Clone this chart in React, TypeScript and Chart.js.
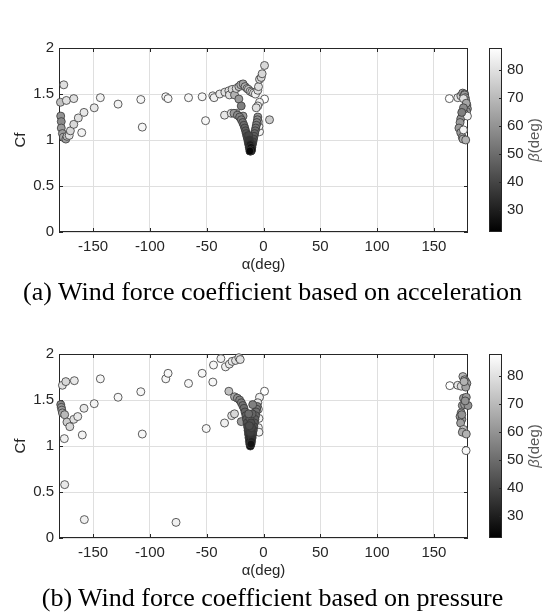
import React, { useEffect, useRef } from 'react';
import { Chart, registerables } from 'chart.js';

Chart.register(...registerables);

// ---------- axis ticks ----------
const xTicks = [-150, -100, -50, 0, 50, 100, 150];
const yTicks = [0, 0.5, 1, 1.5, 2];
const cbTicks = [30, 40, 50, 60, 70, 80];
const xMin = -180, xMax = 180, yMin = 0, yMax = 2, cbMin = 22, cbMax = 88;

const xTitle = 'α(deg)';
const yTitle = 'Cf';
const cbTitleGreek = 'β';
const cbTitleRest = '(deg)';
const captionA = '(a) Wind force coefficient based on acceleration';
const captionB = '(b) Wind force coefficient based on pressure';

// ---------- (a) based on acceleration ----------
const alphaA = [
  -175.8, -178.7, -173.5, -167, -178.5, -178, -178, -177, -176, -174,
  -173, -171, -170, -167, -163, -158, -160, -149, -143.6, -128,
  -108, -106.7, -86, -84, -66, -54, -51, -44.6, -43.5, -38.5,
  -34, -34.3, -30.5, -30, -27.6, -25.5, -24, -21.7, -20, -18,
  -16.2, -14.5, -13.3, -11.8, -10.3, -8.8, -7, -5, -4.4, -3.5,
  -2, -1.2, 0.9, -21.7, -19.6, 0.9, 5.3, -3.5, -5, -6.4,
  -28.4, -24, -18, -3.5, -4, -4.5,
  -26, -23, -21, -19.5, -18.3, -17.3, -16.5, -15.8, -15.2, -14.6, -14, -13.5, -13, -12.5, -12, -11.5,
  -5, -5.3, -5.8, -6.3, -6.8, -7.3, -7.8, -8.3, -8.8, -9.3, -9.8, -10.3, -10.8, -11,
  -13, -12.5, -11.8, -11, -10.5, -12,
  163.6, 171, 173.7, 175.3, 177, 177, 177.6, 178, 179, 179.5,
  178.7, 176.6, 175, 173.6, 173, 172, 173.6, 175, 175.6, 178,
  176, 179.5, 176, 178.5, 176, 174.5,
];
const cfA = [
  1.60, 1.41, 1.43, 1.45, 1.26, 1.20, 1.13, 1.07, 1.03, 1.01,
  1.04, 1.05, 1.10, 1.17, 1.24, 1.30, 1.08, 1.35, 1.46, 1.39,
  1.44, 1.14, 1.47, 1.45, 1.46, 1.47, 1.21, 1.48, 1.46, 1.50,
  1.52, 1.27, 1.535, 1.49, 1.55, 1.49, 1.56, 1.58, 1.60, 1.61,
  1.58, 1.56, 1.55, 1.53, 1.52, 1.51, 1.50, 1.54, 1.58, 1.66,
  1.68, 1.72, 1.81, 1.445, 1.37, 1.445, 1.22, 1.41, 1.37, 1.35,
  1.29, 1.29, 1.26, 1.09, 1.15, 1.20,
  1.29, 1.27, 1.25, 1.22, 1.19, 1.16, 1.13, 1.10, 1.07, 1.04, 1.01, 0.98, 0.95, 0.92, 0.90, 0.88,
  1.25, 1.22, 1.19, 1.16, 1.13, 1.10, 1.07, 1.04, 1.01, 0.98, 0.95, 0.92, 0.90, 0.88,
  1.05, 1.00, 0.95, 0.92, 0.89, 0.88,
  1.45, 1.46, 1.48, 1.51, 1.50, 1.49, 1.46, 1.43, 1.38, 1.34,
  1.31, 1.29, 1.26, 1.23, 1.19, 1.13, 1.08, 1.03, 1.01, 1.00,
  1.11, 1.26, 1.45, 1.40, 1.35, 1.30,
];
const betaA = [
  80, 72, 80, 80, 60, 58, 62, 62, 65, 63,
  70, 80, 78, 78, 80, 82, 85, 82, 85, 85,
  86, 86, 86, 86, 86, 86, 86, 84, 84, 82,
  80, 82, 80, 80, 78, 68, 78, 72, 68, 64,
  68, 72, 74, 76, 78, 80, 84, 80, 80, 78,
  78, 78, 78, 62, 55, 88, 75, 84, 82, 80,
  80, 75, 62, 86, 86, 84,
  62, 58, 56, 54, 52, 50, 48, 46, 44, 42, 40, 37, 34, 31, 28, 25,
  60, 58, 56, 54, 52, 50, 48, 46, 43, 40, 36, 32, 28, 24,
  40, 36, 30, 27, 25, 24,
  88, 82, 75, 65, 65, 62, 62, 62, 62, 60,
  60, 60, 60, 60, 62, 62, 62, 64, 66, 68,
  85, 85, 80, 65, 58, 55,
];

// ---------- (b) based on pressure ----------
const alphaB = [
  -177, -174, -166.5, -178.5, -178, -177.5, -177, -175, -173, -170.5,
  -167, -163.5, -158, -159.5, -175.3, -175, -157.7, -149, -143.6, -128,
  -108, -106.7, -86, -84, -77, -66, -54, -50.4, -44.6, -44,
  -37.5, -33.4, -30, -27.6, -24.6, -21.7, -20.5, -34.3, -30.5, -28,
  -25.5, -19.6, 0.9, -3.5, -5, -4.5, -4, -4.5, -4,
  -25.5, -23, -21, -19.5, -18.3, -17.2, -16.3, -15.5, -15, -14.5, -14, -13.6, -13.2, -12.8, -12.4, -12, -11.6,
  -5.5, -6, -6.5, -7, -7.5, -8, -8.5, -9, -9.5, -10, -10.5, -11,
  -12, -11, -10, -11.5, -13, -9.5, -10.5, -12.5,
  164, 171, 174, 175.5, 177, 178, 179, 178, 176, 178.5,
  175, 177, 180, 174, 173, 174.6, 173.5, 176, 175, 178.5,
  178.3, 174.5, 176.5, 177.5,
];
const cfB = [
  1.66, 1.70, 1.71, 1.45, 1.42, 1.39, 1.36, 1.34, 1.26, 1.21,
  1.29, 1.32, 1.41, 1.12, 1.08, 0.58, 0.20, 1.46, 1.73, 1.53,
  1.59, 1.13, 1.73, 1.79, 0.17, 1.68, 1.79, 1.19, 1.695, 1.88,
  1.95, 1.86, 1.89, 1.92, 1.93, 1.96, 1.94, 1.25, 1.595, 1.33,
  1.35, 1.265, 1.595, 1.53, 1.47, 1.40, 1.30, 1.20, 1.15,
  1.535, 1.52, 1.50, 1.47, 1.44, 1.41, 1.37, 1.33, 1.29, 1.25, 1.21, 1.17, 1.13, 1.09, 1.05, 1.02, 1.00,
  1.43, 1.40, 1.37, 1.33, 1.29, 1.25, 1.21, 1.17, 1.13, 1.09, 1.05, 1.02,
  1.30, 1.25, 1.35, 1.15, 1.35, 1.45, 1.20, 1.22,
  1.656, 1.66, 1.65, 1.755, 1.72, 1.70, 1.68, 1.64, 1.52, 1.53,
  1.44, 1.45, 1.44, 1.36, 1.32, 1.29, 1.25, 1.18, 1.15, 1.13,
  0.95, 1.34, 1.70, 1.49,
];
const betaB = [
  80, 78, 82, 58, 60, 62, 64, 70, 75, 78,
  80, 82, 82, 85, 84, 82, 84, 85, 86, 86,
  86, 86, 86, 86, 84, 86, 86, 86, 86, 86,
  84, 84, 82, 82, 80, 80, 80, 84, 72, 80,
  78, 62, 88, 84, 82, 84, 85, 84, 85,
  65, 60, 56, 54, 52, 50, 48, 46, 45, 43, 41, 39, 37, 34, 30, 27, 24,
  55, 53, 51, 49, 47, 45, 43, 41, 38, 35, 31, 27,
  45, 42, 48, 38, 50, 55, 40, 42,
  88, 82, 78, 70, 66, 64, 64, 64, 62, 62,
  62, 62, 60, 62, 62, 62, 64, 72, 66, 68,
  86, 60, 68, 60,
];

// ---------- styling ----------
const TEXT = '#262626';
const GRID = '#dfdfdf';
const SANS = "'Liberation Sans', Arial, Helvetica, sans-serif";
const FONT_SIZE = 15;

function grayOf(b: number) {
  const t = Math.min(1, Math.max(0, (b - cbMin) / (cbMax - cbMin)));
  const g = Math.round(t * 255);
  return `rgb(${g},${g},${g})`;
}

const framePlugin = {
  id: 'matlabFrame',
  beforeDatasetsDraw(chart: any) {
    const { ctx, chartArea, scales } = chart;
    const { left, right, top, bottom } = chartArea;
    const x = scales.x, y = scales.y;
    ctx.save();
    ctx.strokeStyle = TEXT;
    ctx.lineWidth = 1;
    ctx.strokeRect(left + 0.5, top + 0.5, right - left - 1, bottom - top - 1);
    ctx.beginPath();
    const tl = 4;
    xTicks.forEach((v) => {
      const px = Math.round(x.getPixelForValue(v)) + 0.5;
      ctx.moveTo(px, bottom);
      ctx.lineTo(px, bottom - tl);
      ctx.moveTo(px, top);
      ctx.lineTo(px, top + tl);
    });
    yTicks.forEach((v) => {
      const py = Math.round(y.getPixelForValue(v)) + 0.5;
      ctx.moveTo(left, py);
      ctx.lineTo(left + tl, py);
      ctx.moveTo(right, py);
      ctx.lineTo(right - tl, py);
    });
    ctx.stroke();
    ctx.restore();
  },
  afterDraw(chart: any) {
    const { ctx, chartArea } = chart;
    const cb = chart.scales.cb;
    const x0 = chartArea.right + 21;
    const w = 13;
    const yTop = cb.getPixelForValue(cbMax);
    const yBot = cb.getPixelForValue(cbMin);
    ctx.save();
    const grad = ctx.createLinearGradient(0, yTop, 0, yBot);
    grad.addColorStop(0, grayOf(cbMax));
    grad.addColorStop(1, grayOf(cbMin));
    ctx.fillStyle = grad;
    ctx.fillRect(x0, yTop, w, yBot - yTop);
    ctx.strokeStyle = TEXT;
    ctx.lineWidth = 1;
    ctx.strokeRect(x0 + 0.5, yTop + 0.5, w - 1, yBot - yTop - 1);
    ctx.beginPath();
    cbTicks.forEach((v) => {
      const py = Math.round(cb.getPixelForValue(v)) + 0.5;
      ctx.moveTo(x0 + w, py);
      ctx.lineTo(x0 + w - 3, py);
    });
    ctx.stroke();
    // colorbar title, reading bottom-to-top
    const cy = (yTop + yBot) / 2;
    ctx.translate(chartArea.right + 67, cy);
    ctx.rotate(-Math.PI / 2);
    ctx.fillStyle = '#5a5a5a';
    ctx.textBaseline = 'middle';
    ctx.font = `italic ${FONT_SIZE}px ${SANS}`;
    const wg = ctx.measureText(cbTitleGreek).width;
    ctx.font = `${FONT_SIZE}px ${SANS}`;
    const wr = ctx.measureText(cbTitleRest).width;
    const start = -(wg + wr) / 2;
    ctx.textAlign = 'left';
    ctx.font = `italic ${FONT_SIZE}px ${SANS}`;
    ctx.fillText(cbTitleGreek, start, 0);
    ctx.font = `${FONT_SIZE}px ${SANS}`;
    ctx.fillText(cbTitleRest, start + wg, 0);
    ctx.restore();
  },
};

function Panel({ alpha, cf, beta }: { alpha: number[]; cf: number[]; beta: number[] }) {
  const ref = useRef<HTMLCanvasElement | null>(null);
  useEffect(() => {
    const font = { family: SANS, size: FONT_SIZE };
    const chart = new Chart(ref.current as HTMLCanvasElement, {
      type: 'scatter',
      data: {
        datasets: [
          {
            data: alpha.map((a, i) => ({ x: a, y: cf[i] })),
            backgroundColor: beta.map(grayOf),
            borderColor: 'rgba(55,55,55,1)',
            borderWidth: 0.8,
            pointRadius: 4,
            clip: false as any,
          } as any,
        ],
      },
      options: {
        animation: false,
        responsive: false,
        maintainAspectRatio: false,
        layout: { padding: { top: 12, left: 0, right: 0, bottom: 0 } },
        plugins: { legend: { display: false }, tooltip: { enabled: false } },
        scales: {
          x: {
            type: 'linear',
            min: xMin,
            max: xMax,
            afterBuildTicks: (s: any) => {
              s.ticks = xTicks.map((v) => ({ value: v }));
            },
            afterFit: (s: any) => {
              s.height = 47;
            },
            grid: { color: GRID, drawTicks: false },
            border: { display: false },
            ticks: { padding: 6, color: TEXT, font, maxRotation: 0 },
            title: { display: true, text: xTitle, color: TEXT, font, padding: { top: 0, bottom: 5 } },
          },
          y: {
            type: 'linear',
            min: yMin,
            max: yMax,
            afterBuildTicks: (s: any) => {
              s.ticks = yTicks.map((v) => ({ value: v }));
            },
            afterFit: (s: any) => {
              s.width = 59;
            },
            grid: { color: GRID, drawTicks: false },
            border: { display: false },
            ticks: { padding: 5, color: TEXT, font, callback: (v: any) => String(v) },
            title: { display: true, text: yTitle, color: TEXT, font, padding: { top: 12, bottom: 0 } },
          },
          cb: {
            type: 'linear',
            position: 'right',
            min: cbMin,
            max: cbMax,
            afterBuildTicks: (s: any) => {
              s.ticks = cbTicks.map((v) => ({ value: v }));
            },
            afterFit: (s: any) => {
              s.width = 77;
            },
            grid: { display: false, drawTicks: false },
            border: { display: false },
            ticks: { padding: 39, color: TEXT, font },
          },
        },
      } as any,
      plugins: [framePlugin],
    });
    return () => chart.destroy();
  }, [alpha, cf, beta]);
  return <canvas ref={ref} width={545} height={280} style={{ display: 'block', width: 545, height: 280 }} />;
}

const captionStyle = (top: number): React.CSSProperties => ({
  position: 'absolute',
  left: 0,
  top,
  width: 545,
  textAlign: 'center',
  fontFamily: "'Liberation Serif', 'Times New Roman', serif",
  fontSize: 26,
  lineHeight: '30px',
  color: '#000',
  whiteSpace: 'nowrap',
});

export default function App() {
  return (
    <div style={{ position: 'absolute', left: 0, top: 0, width: 545, height: 614, background: '#fff', overflow: 'hidden' }}>
      <div style={{ position: 'absolute', left: 0, top: 0 }}>
        <Panel alpha={alphaA} cf={cfA} beta={betaA} />
      </div>
      <div style={captionStyle(277)}>{captionA}</div>
      <div style={{ position: 'absolute', left: 0, top: 306 }}>
        <Panel alpha={alphaB} cf={cfB} beta={betaB} />
      </div>
      <div style={captionStyle(583)}>{captionB}</div>
    </div>
  );
}
